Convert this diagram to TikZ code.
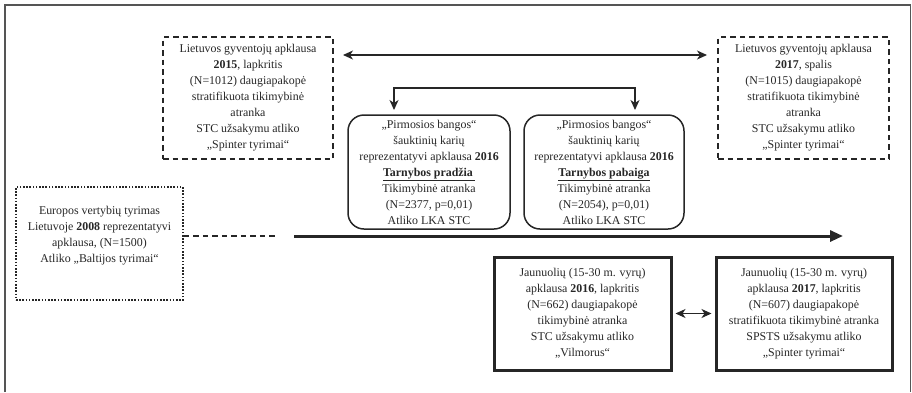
\documentclass[tikz,border=0pt]{standalone}
\usepackage{fontspec}
\setmainfont{Liberation Serif}
\usetikzlibrary{arrows.meta,calc}
\definecolor{ink}{HTML}{262626}
\definecolor{frame}{HTML}{555555}
\tikzset{
  txt/.style={text=ink, align=center, font=\fontsize{11.9}{16}\selectfont, inner sep=0pt},
  dashbox/.style={draw=ink, line width=1.6pt, dash pattern=on 5.5pt off 4pt, inner sep=0pt},
  dotbox/.style={draw=ink, line width=1.6pt, dash pattern=on 1.6pt off 1.6pt, inner sep=0pt},
  roundbox/.style={draw=ink, line width=1.5pt, rounded corners=16pt, inner sep=0pt},
  thickbox/.style={draw=ink, line width=3pt, inner sep=0pt},
  conn/.style={draw=ink, line width=1.1pt},
  dtip/.style={{Stealth[length=10pt,width=9pt,inset=3pt]}-{Stealth[length=10pt,width=9pt,inset=3pt]}},
}
\begin{document}
\begin{tikzpicture}[x=1pt,y=-1pt]
\useasboundingbox (0,0) rectangle (912,392);
% frame
\draw[frame, line width=1.6pt] (5,392) -- (5,5) -- (910.5,5) -- (910.5,392);

% top dashed boxes
\node[dashbox, txt, minimum width=170pt, minimum height=122pt] (L) at (248,98)
 {Lietuvos gyventojų apklausa\\ \textbf{2015}, lapkritis\\ (N=1012) daugiapakopė\\ stratifikuota tikimybinė\\ atranka\\ STC užsakymu atliko\\ „Spinter tyrimai“};
\node[dashbox, txt, minimum width=171pt, minimum height=122pt] (R) at (803.5,98)
 {Lietuvos gyventojų apklausa\\ \textbf{2017}, spalis\\ (N=1015) daugiapakopė\\ stratifikuota tikimybinė\\ atranka\\ STC užsakymu atliko\\ „Spinter tyrimai“};

% rounded boxes
\node[roundbox, txt, minimum width=162pt, minimum height=114pt] (P1) at (429,172)
 {„Pirmosios bangos“\\ šauktinių karių\\ reprezentatyvi apklausa \textbf{2016}\\ \textbf{\underline{Tarnybos pradžia\,}}\\ Tikimybinė atranka\\ (N=2377, p=0,01)\\ Atliko LKA STC};
\node[roundbox, txt, minimum width=160pt, minimum height=114pt] (P2) at (604,172)
 {„Pirmosios bangos“\\ šauktinių karių\\ reprezentatyvi apklausa \textbf{2016}\\ \textbf{\underline{Tarnybos pabaiga}}\\ Tikimybinė atranka\\ (N=2054), p=0,01)\\ Atliko LKA STC};

% dotted box
\node[dotbox, minimum width=167pt, minimum height=113pt] (E) at (99.5,243.5) {};
\node[txt] (Et) at (99.5,236)
 {Europos vertybių tyrimas\\ Lietuvoje \textbf{2008} reprezentatyvi\\ apklausa, (N=1500)\\ Atliko „Baltijos tyrimai“};

% bottom thick boxes
\node[thickbox, txt, minimum width=177pt, minimum height=113pt] (J1) at (582.5,313.5)
 {Jaunuolių (15-30 m. vyrų)\\ apklausa \textbf{2016}, lapkritis\\ (N=662) daugiapakopė\\ tikimybinė atranka\\ STC užsakymu atliko\\ „Vilmorus“};
\node[thickbox, txt, minimum width=176pt, minimum height=113pt] (J2) at (804,313.5)
 {Jaunuolių (15-30 m. vyrų)\\ apklausa \textbf{2017}, lapkritis\\ (N=607) daugiapakopė\\ stratifikuota tikimybinė atranka\\ SPSTS užsakymu atliko\\ „Spinter tyrimai“};

% connectors
\coordinate (ta) at (343,55);
\coordinate (tb) at (707,55);
\draw[conn, dtip] (ta) -- (tb);

\coordinate (b1) at (394,88);
\coordinate (b2) at (635,88);
\coordinate (e1) at (394,110);
\coordinate (e2) at (635,110);
\draw[conn, dtip] (e1) -- (b1) -- (b2) -- (e2);

\coordinate (dl) at (276,236);
\draw[draw=ink, line width=1.5pt, dash pattern=on 5.5pt off 4pt] (E.east |- dl) -- (dl);
\coordinate (ts) at (294,236);
\coordinate (te) at (843,236);
\draw[draw=ink, line width=3pt, -{Triangle[length=13pt,width=11pt]}] (ts) -- (te);

\draw[conn, dtip] ($(J1.east)+(3,0)$) -- ($(J2.west)+(-3,0)$);
\end{tikzpicture}
\end{document}
